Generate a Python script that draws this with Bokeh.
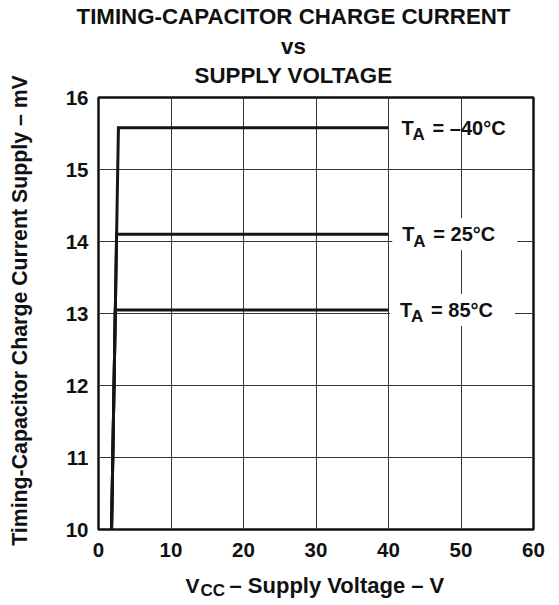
import math
from bokeh.plotting import figure
from bokeh.layouts import column, row
from bokeh.models import Range1d, FixedTicker, Label
from bokeh.core.properties import value
from bokeh.embed import file_html
from bokeh.resources import INLINE

# ---- data ----
vcc_m40 = [1.8, 2.75, 40.0]
cur_m40 = [10.0, 15.58, 15.58]
vcc_25 = [1.8, 2.5, 40.0]
cur_25 = [10.0, 14.1, 14.1]
vcc_85 = [1.8, 2.32, 40.0]
cur_85 = [10.0, 13.05, 13.05]

x_ticks = [0, 10, 20, 30, 40, 50, 60]
y_ticks = [10, 11, 12, 13, 14, 15, 16]

temp_texts = ["= \u201340\u00b0C", "= 25\u00b0C", "= 85\u00b0C"]
temp_x = [41.8, 41.9, 41.6]
temp_y = [15.58, 14.1, 13.05]
temp_box = [False, True, True]

title_lines = ["TIMING-CAPACITOR CHARGE CURRENT", "vs", "SUPPLY VOLTAGE"]
y_label = "Timing-Capacitor Charge Current Supply \u2013 mV"
x_label_parts = ["V", "CC", "\u2013 Supply Voltage \u2013 V"]

FONT = "Liberation Sans"
INK = "#111111"
PAGE_W, PAGE_H = 559, 605
YL_W = 36                 # strip holding the y-axis title
W = PAGE_W - YL_W         # width of the right-hand column
BL, BR = 98 - YL_W, 26
FW = W - BL - BR
X0, X1, Y0, Y1 = 0, 60, 10, 16
px_x = FW / (X1 - X0)
SHIFT = 7                 # baseline correction (px)

TH, MH, XH = 87, 482, 36

# ---------------- main chart ----------------
p = figure(width=W, height=MH,
           min_border_left=BL, min_border_right=BR,
           min_border_top=10, min_border_bottom=40,
           x_range=Range1d(X0, X1), y_range=Range1d(Y0, Y1),
           output_backend="svg", toolbar_location=None)
p.frame_align = False
p.background_fill_color = "white"
p.border_fill_color = "white"
p.outline_line_color = INK
p.outline_line_width = 2.5
p.outline_line_alpha = 1.0

for ax, ticks in ((p.xaxis, x_ticks), (p.yaxis, y_ticks)):
    ax.ticker = FixedTicker(ticks=ticks)
    ax.major_label_text_font = FONT
    ax.major_label_text_font_style = "bold"
    ax.major_label_text_font_size = "20.5px"
    ax.major_label_text_color = INK
    ax.major_tick_in = 0
    ax.major_tick_out = 0
    ax.minor_tick_in = 0
    ax.minor_tick_out = 0
    ax.axis_line_color = None
p.xaxis.major_label_standoff = 13
p.yaxis.major_label_standoff = 10

p.xgrid.ticker = FixedTicker(ticks=x_ticks)
p.ygrid.ticker = FixedTicker(ticks=y_ticks)
for g in (p.xgrid, p.ygrid):
    g.grid_line_color = "#333333"
    g.grid_line_width = 1
    g.grid_line_alpha = 1.0

# white boxes behind some labels
for tx, ty, box in zip(temp_x, temp_y, temp_box):
    if box:
        p.rect(x=tx + 52.5 / px_x, y=ty, width=125, height=32,
               width_units="screen", height_units="screen",
               fill_color="white", line_color=None)

for xs, ys in ((vcc_m40, cur_m40), (vcc_25, cur_25), (vcc_85, cur_85)):
    p.line(xs, ys, line_color="#151515", line_width=3, line_join="miter")


def lab(x, y, text, size, dx=0, dy=0):
    p.add_layout(Label(x=x, y=y, text=text, x_offset=dx, y_offset=dy + SHIFT,
                       text_font=FONT, text_font_style="bold",
                       text_font_size=size, text_color=INK,
                       text_align="left", text_baseline="alphabetic"))


for tx, ty, txt in zip(temp_x, temp_y, temp_texts):
    lab(tx, ty, "T", "20px", 0, -7)
    lab(tx, ty, "A", "17px", 11, -14)
    lab(tx, ty, txt, "20px", 31, -7)


# ---------------- text strips ----------------
def strip(w, h):
    s = figure(width=w, height=h, x_range=Range1d(0, w), y_range=Range1d(0, h),
               min_border=0, output_backend="svg", toolbar_location=None,
               x_axis_location=None, y_axis_location=None)
    s.frame_align = False
    s.outline_line_color = None
    s.grid.visible = False
    s.background_fill_color = "white"
    s.border_fill_color = "white"
    return s


# title (page coords: centre x 293, baselines 23 / 53 / 82)
t = strip(W, TH)
t.text(x=[293 - YL_W] * 3,
       y=[TH - 23 + SHIFT, TH - 53 + SHIFT, TH - 82 + SHIFT],
       text=title_lines,
       text_font=value(FONT), text_font_style="bold", text_font_size="22.3px",
       text_color=INK, text_align="center", text_baseline="alphabetic")

# x-axis title (page coords: V at 185, CC at 200, rest at 229; baseline 592)
xlf = strip(W, XH)
xlf.text(x=[185 - YL_W, 200 - YL_W, 229 - YL_W],
         y=[XH - 23 + SHIFT, XH - 28 + SHIFT, XH - 23 + SHIFT],
         text=x_label_parts,
         text_font=value(FONT), text_font_style="bold",
         text_font_size=["21px", "17px", "22px"],
         text_color=INK, text_align="left", text_baseline="alphabetic")

# y-axis title (page coords: baseline x 26, centre y 310)
yl = strip(YL_W, PAGE_H)
yl.text(x=[26 - SHIFT], y=[PAGE_H - 310], text=[y_label], angle=math.pi / 2,
        text_font=value(FONT), text_font_style="bold", text_font_size="21.3px",
        text_color=INK, text_align="center", text_baseline="alphabetic")

layout = row(yl, column(t, p, xlf, spacing=0), spacing=0)
open("out.html", "w").write(file_html(layout, INLINE))
